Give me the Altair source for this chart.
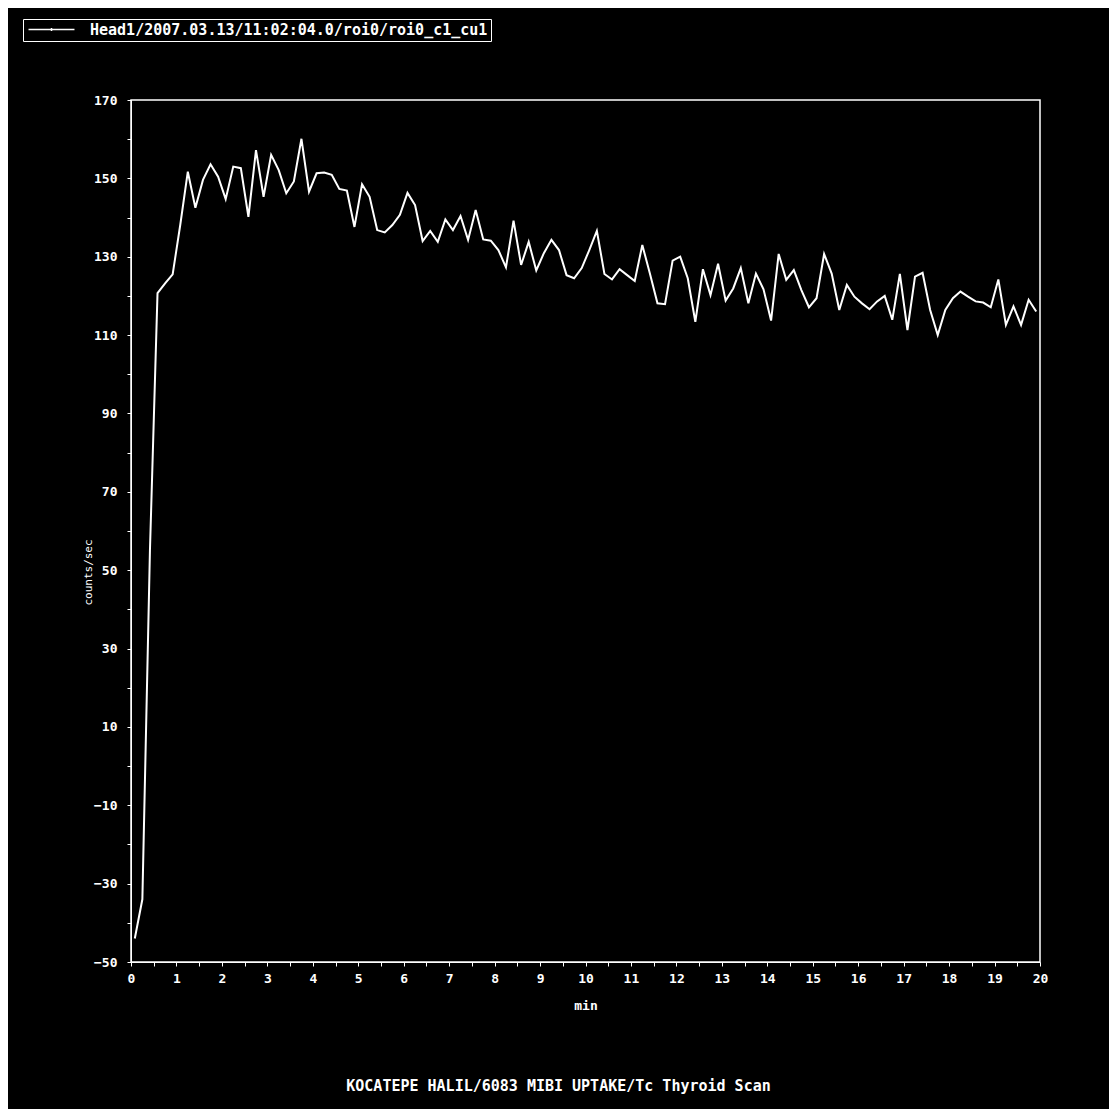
import altair as alt
import pandas as pd

# frame mid-times in seconds (10 s frames)
frame_seconds = [
    5, 15, 25, 35, 45, 55, 65, 75, 85, 95, 105, 115,
    125, 135, 145, 155, 165, 175, 185, 195, 205, 215, 225, 235,
    245, 255, 265, 275, 285, 295, 305, 315, 325, 335, 345, 355,
    365, 375, 385, 395, 405, 415, 425, 435, 445, 455, 465, 475,
    485, 495, 505, 515, 525, 535, 545, 555, 565, 575, 585, 595,
    605, 615, 625, 635, 645, 655, 665, 675, 685, 695, 705, 715,
    725, 735, 745, 755, 765, 775, 785, 795, 805, 815, 825, 835,
    845, 855, 865, 875, 885, 895, 905, 915, 925, 935, 945, 955,
    965, 975, 985, 995, 1005, 1015, 1025, 1035, 1045, 1055, 1065, 1075,
    1085, 1095, 1105, 1115, 1125, 1135, 1145, 1155, 1165, 1175, 1185, 1195,
]

counts_per_sec = [
    -44.0, -34.0, 55.0, 120.7, 123.2, 125.5, 138.1, 151.7, 142.5, 149.6, 153.6, 150.4,
    144.7, 153.0, 152.6, 140.2, 157.2, 145.3, 156.0, 152.1, 146.2, 149.2, 160.1, 146.6,
    151.3, 151.5, 150.9, 147.3, 146.9, 137.6, 148.5, 145.3, 136.8, 136.2, 138.1, 140.7,
    146.3, 143.2, 134.0, 136.6, 133.8, 139.5, 136.8, 140.4, 134.3, 141.9, 134.4, 134.1,
    131.7, 127.3, 139.2, 127.9, 133.8, 126.5, 130.9, 134.3, 131.7, 125.3, 124.5, 127.1,
    131.7, 136.6, 125.6, 124.2, 126.8, 125.3, 123.8, 133.0, 125.7, 118.1, 117.9, 129.0,
    130.0, 124.5, 113.4, 126.8, 120.2, 128.2, 118.8, 121.9, 127.1, 118.1, 125.7, 121.7,
    113.7, 130.7, 124.1, 126.6, 121.5, 117.1, 119.4, 130.7, 125.7, 116.4, 122.8, 119.8,
    118.1, 116.6, 118.6, 120.0, 113.9, 125.6, 111.3, 124.9, 125.9, 116.4, 110.0, 116.4,
    119.4, 121.1, 119.8, 118.6, 118.3, 117.1, 124.2, 112.6, 117.3, 112.6, 119.0, 116.0,
]

series_label = "Head1/2007.03.13/11:02:04.0/roi0/roi0_c1_cu1"
footer_text = "KOCATEPE HALIL/6083 MIBI UPTAKE/Tc Thyroid Scan"

x_tick_values = [0, 0.5, 1, 1.5, 2, 2.5, 3, 3.5, 4, 4.5, 5, 5.5, 6, 6.5, 7, 7.5,
                 8, 8.5, 9, 9.5, 10, 10.5, 11, 11.5, 12, 12.5, 13, 13.5, 14, 14.5,
                 15, 15.5, 16, 16.5, 17, 17.5, 18, 18.5, 19, 19.5, 20]
y_tick_values = [-50, -40, -30, -20, -10, 0, 10, 20, 30, 40, 50, 60, 70, 80, 90,
                 100, 110, 120, 130, 140, 150, 160, 170]

df = pd.DataFrame({
    "min": [s / 60 for s in frame_seconds],
    "counts/sec": counts_per_sec,
    "series": [series_label] * len(counts_per_sec),
})

MONO = "DejaVu Sans Mono"

chart = alt.Chart(df).mark_line(strokeWidth=2, clip=True).encode(
    x=alt.X(
        "min:Q",
        scale=alt.Scale(domain=[0, 20], nice=False, zero=False),
        axis=alt.Axis(
            values=x_tick_values,
            labelExpr="datum.value % 1 == 0 ? format(datum.value, 'd') : ''",
            labelOverlap=False,
            grid=False,
            domainColor="white",
            tickColor="white",
            tickSize=4,
            labelColor="white",
            labelFont=MONO,
            labelFontSize=13,
            labelFontWeight="bold",
            labelPadding=6,
            labelFlush=False,
            title="min",
            titleColor="white",
            titleFont=MONO,
            titleFontSize=13,
            titleFontWeight="bold",
            titlePadding=14,
        ),
    ),
    y=alt.Y(
        "counts/sec:Q",
        scale=alt.Scale(domain=[-50, 170], nice=False, zero=False),
        axis=alt.Axis(
            values=y_tick_values,
            labelExpr="(datum.value + 50) % 20 == 0 ? format(datum.value, 'd') : ''",
            labelOverlap=False,
            grid=False,
            domainColor="white",
            tickColor="white",
            tickSize=4,
            labelColor="white",
            labelFont=MONO,
            labelFontSize=13,
            labelFontWeight="bold",
            labelPadding=10,
            labelFlush=False,
            title="counts/sec",
            titleColor="white",
            titleFont=MONO,
            titleFontSize=11,
            titleFontWeight="normal",
            titleAngle=270,
            titleX=-43,
            titleY=472,
            titleAlign="center",
            titleBaseline="middle",
        ),
    ),
    color=alt.Color(
        "series:N",
        scale=alt.Scale(range=["white"]),
        legend=alt.Legend(
            title=None,
            orient="none",
            legendX=-108,
            legendY=-81,
            symbolType="M-4,0H4M0,-0.25V0.25",
            symbolSize=132,
            symbolOffset=18,
            symbolStrokeWidth=1.5,
            symbolStrokeColor="white",
            labelColor="white",
            labelFont=MONO,
            labelFontSize=15,
            labelFontWeight="bold",
            labelOffset=31,
            labelLimit=700,
            strokeColor="white",
            fillColor="black",
            padding=3,
            cornerRadius=0,
        ),
    ),
).properties(
    width=909,
    height=862,
    background="black",
    padding={"left": 123, "top": 92, "right": 69, "bottom": 147},
    autosize=alt.AutoSizeParams(type="none"),
    title=alt.TitleParams(
        text=footer_text,
        orient="bottom",
        anchor="middle",
        offset=67,
        dx=-27,
        color="white",
        font=MONO,
        fontSize=15,
        fontWeight="bold",
    ),
).configure_view(
    stroke="white",
    strokeWidth=1.5,
)

chart.save("out.html", embed_options={"renderer": "svg", "actions": False})
